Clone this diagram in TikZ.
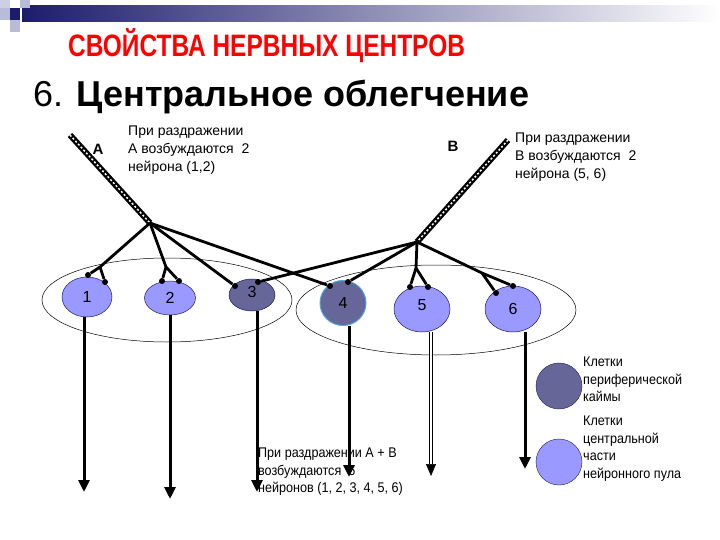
\documentclass[tikz,border=0pt]{standalone}
\usepackage{fontspec}
\setmainfont{Liberation Sans}
\usetikzlibrary{shapes.geometric,arrows.meta}
\definecolor{lightn}{HTML}{9999FF}
\definecolor{darkn}{HTML}{666699}
\definecolor{navy}{HTML}{1C1C6C}
\definecolor{sq}{HTML}{B8BCD8}
\tikzset{
  neuron/.style={ellipse,draw=navy,line width=0.5pt,inner sep=0,font=\fontsize{16}{16}\selectfont},
  syn/.style={circle,fill=black,inner sep=0,minimum size=6pt},
  axon/.style={line width=2.8pt},
  outarrow/.style={line width=3pt,-{Triangle[length=12pt,width=11pt]}},
  pool/.style={draw,line width=0.5pt},
  txt/.style={align=left,anchor=north west,font=\fontsize{14}{18}\selectfont,inner sep=0},
}
\newcommand{\fiber}[2]{\draw[line width=6pt] (#1) -- (#2); \draw[line width=1.5pt,white,dash pattern=on 2pt off 2pt] (#1) -- (#2);}
\begin{document}
\begin{tikzpicture}[x=1pt,y=-1pt]
\path[use as bounding box] (0,0) rectangle (720,540);
% header
\shade[left color=navy,right color=white,shading angle=90] (22,6) rectangle (720,22);
\fill[navy] (10,8) rectangle (20,20);
\fill[sq] (20,0) rectangle (30,8);
\fill[sq] (0,8) rectangle (10,20);
\fill[sq] (10,20) rectangle (20,32);
\fill[sq!70] (0,0) rectangle (10,8);
\node[font=\bfseries\fontsize{31}{31}\selectfont,text=red,xscale=0.79,anchor=west,inner sep=0] (title) at (68,46) {СВОЙСТВА НЕРВНЫХ ЦЕНТРОВ};
\node[font=\fontsize{36}{36}\selectfont,anchor=west,inner sep=0] (sub) at (33,97) {6. \textbf{Центральное облегчение}};
% pools
\draw[pool] (167,300) ellipse (125 and 42);
\draw[pool] (436,310) ellipse (140 and 45);
% neurons
\node[neuron,fill=lightn,minimum width=50,minimum height=40] (n1) at (87,297) {1};
\node[neuron,fill=lightn,minimum width=51,minimum height=34] (n2) at (170,298) {2};
\node[neuron,fill=darkn,minimum width=46,minimum height=32] (n3) at (252,295) {\raisebox{6pt}{3}};
\node[neuron,fill=darkn,draw=cyan!50!lightn,line width=1pt,minimum width=46,minimum height=45] (n4) at (343,303) {\raisebox{-6pt}{4}};
\node[neuron,fill=lightn,minimum width=56,minimum height=46] (n5) at (422,309) {\raisebox{8pt}{5}};
\node[neuron,fill=lightn,minimum width=56,minimum height=46] (n6) at (513,309) {6};
% fibers
\coordinate (Atop) at (70,135);
\coordinate (Ab) at (150,223);
\coordinate (Btop) at (508,140);
\coordinate (Bb) at (417,242);
\fiber{Atop}{Ab}
\fiber{Btop}{Bb}
\node[font=\bfseries\fontsize{15}{15}\selectfont] (lA) at (98,149) {A};
\node[font=\bfseries\fontsize{15}{15}\selectfont] (lB) at (453,146) {B};
% synapses
\node[syn] (s1a) at (88,275) {}; \node[syn] (s1b) at (105,282) {};
\node[syn] (s2a) at (162,281) {}; \node[syn] (s2b) at (179,281) {};
\node[syn] (s3a) at (235,286) {}; \node[syn] (s3b) at (258,282) {};
\node[syn] (s4a) at (330,286) {}; \node[syn] (s4b) at (348,282) {};
\node[syn] (s5a) at (410,287) {}; \node[syn] (s5b) at (428,287) {};
\node[syn] (s6a) at (496,293) {}; \node[syn] (s6b) at (513,286) {};
\coordinate (k1) at (100,267); \coordinate (k2) at (166,267);
\coordinate (k5) at (416,268); \coordinate (k6) at (482,273);
\draw[axon] (Ab) -- (k1) -- (s1a); \draw[axon] (k1) -- (s1b);
\draw[axon] (Ab) -- (k2) -- (s2a); \draw[axon] (k2) -- (s2b);
\draw[axon] (Ab) -- (s3a);
\draw[axon] (Ab) -- (s4a);
\draw[axon] (Bb) -- (s3b);
\draw[axon] (Bb) -- (s4b);
\draw[axon] (Bb) -- (k5) -- (s5a); \draw[axon] (k5) -- (s5b);
\draw[axon] (Bb) -- (k6) -- (s6b); \draw[axon] (k6) -- (s6a);
% outputs
\coordinate (o1) at (84,492); \coordinate (o2) at (170,499); \coordinate (o3) at (257,492);
\coordinate (o4) at (349,477); \coordinate (o5) at (431,476); \coordinate (o6) at (525,469);
\draw[outarrow] (n1.south -| o1) -- (o1);
\draw[outarrow] (n2.south) -- (o2);
\draw[outarrow] (n3.south -| o3) -- (o3);
\draw[outarrow] (n4.south -| o4) -- (o4);
\draw[double,double distance=2pt,line width=0.6pt,-{Triangle[length=12pt,width=10pt]}] (n5.south -| o5) -- (o5);
\draw[outarrow] (n6.south -| o6) -- (o6);
% texts
\node[txt] (tA) at (128,126) {При раздражении\\А возбуждаются \ 2\\нейрона (1,2)};
\node[txt] (tB) at (515,133) {При раздражении\\В возбуждаются \ 2\\нейрона (5, 6)};
\node[txt,xscale=0.9,font=\fontsize{14}{17.5}\selectfont] (tAB) at (258,448) {При раздражении А + В\\возбуждаются \ 6\\нейронов (1, 2, 3, 4, 5, 6)};
% legend
\node[circle,draw=navy,fill=darkn,minimum size=46,inner sep=0] (ld) at (559,386) {};
\node[circle,draw=navy,fill=lightn,minimum size=46,inner sep=0] (ll) at (559,462) {};
\node[txt,xscale=0.9,font=\fontsize{14}{17.3}\selectfont] (tld) at (583,357) {Клетки\\периферической\\каймы};
\node[txt,xscale=0.9,font=\fontsize{14}{17.5}\selectfont] (tll) at (583,416) {Клетки\\центральной\\части\\нейронного пула};
\end{tikzpicture}
\end{document}
